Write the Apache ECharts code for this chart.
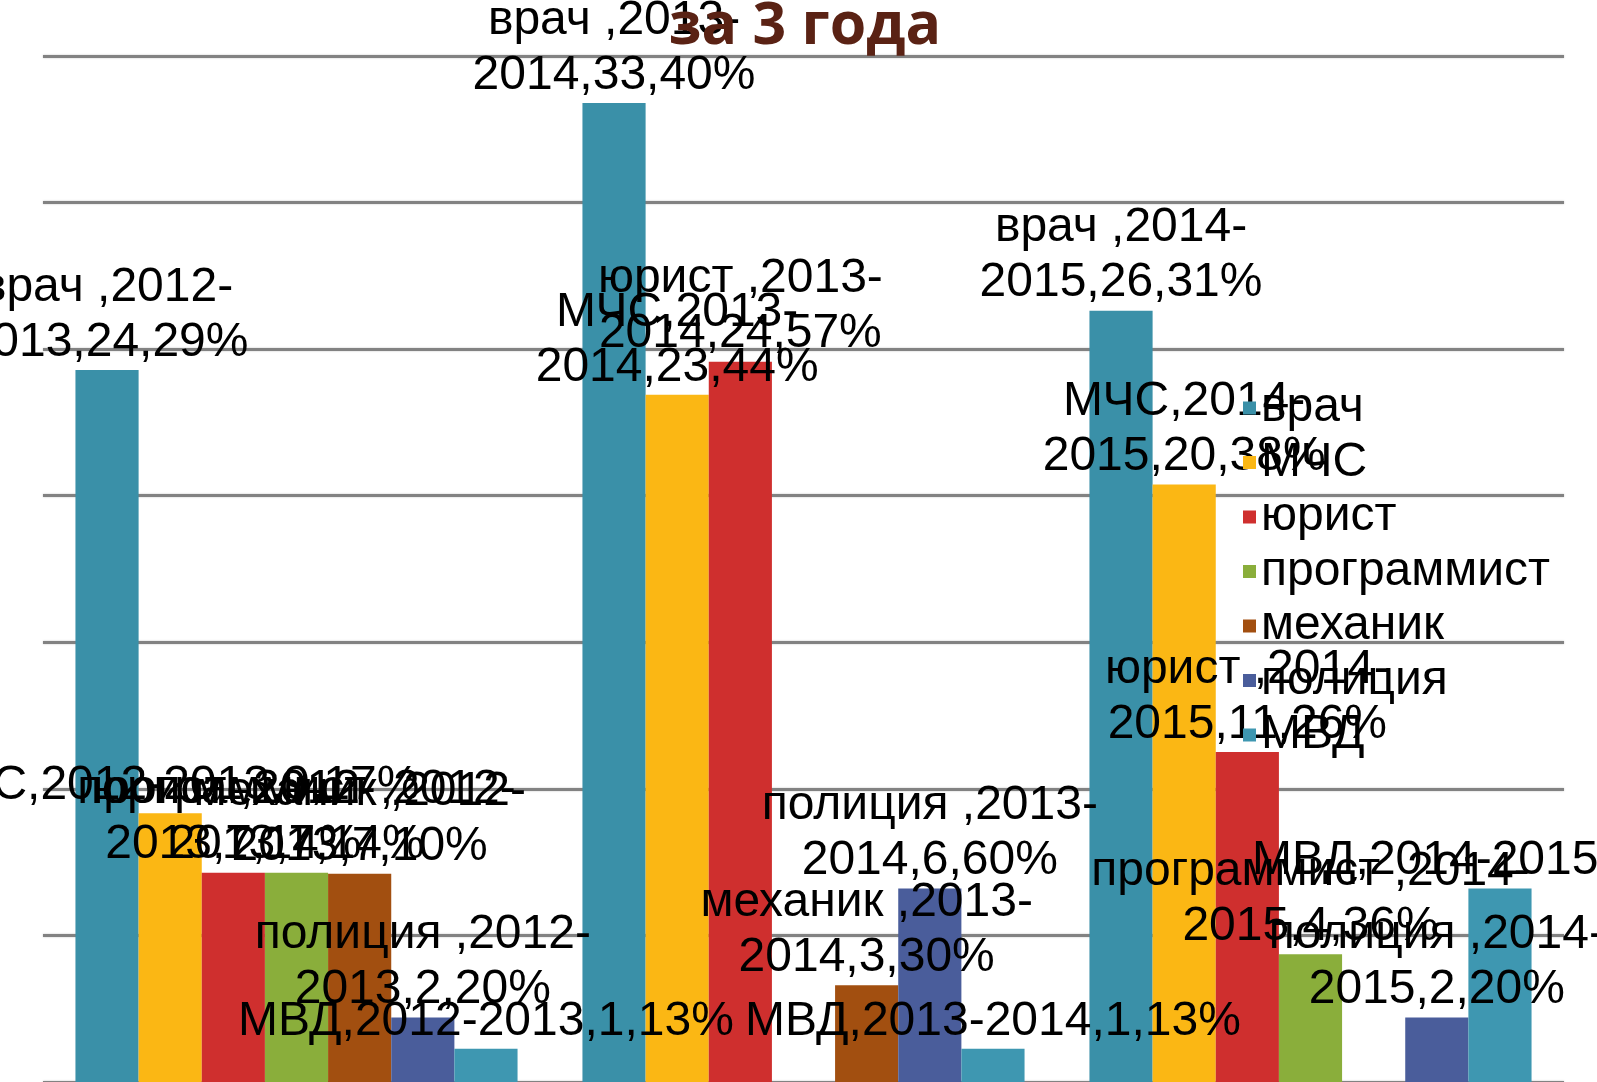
<!DOCTYPE html>
<html><head><meta charset="utf-8">
<script src="https://cdn.jsdelivr.net/npm/echarts@6/dist/echarts.min.js"></script>
<style>html,body{margin:0;padding:0;background:#fff;overflow:hidden}#c{width:1597px;height:1082px}</style>
</head><body><div id="c"></div>
<script>
// ---- data ----
const categories = ['2012-2013', '2013-2014', '2014-2015'];
const seriesNames = ['врач ', 'МЧС', 'юрист ', 'программист ', 'механик ', 'полиция ', 'МВД'];
const vrach      = [24.29, 33.40, 26.31];
const mchs       = [9.17, 23.44, 20.38];
const yurist     = [7.14, 24.57, 11.26];
const programmer = [7.14, null, 4.36];
const mechanic   = [7.10, 3.30, null];
const police     = [2.20, 6.60, 2.20];
const mvd        = [1.13, 1.13, 6.60];
const yTicks     = [0, 5, 10, 15, 20, 25, 30, 35];
const titleText  = 'за 3 года';

const seriesValues = [vrach, mchs, yurist, programmer, mechanic, police, mvd];
const colors = ['#3A90A8', '#FBB714', '#CF2F2E', '#8AAE3B', '#A24F10', '#4A5D9B', '#3E97B1'];

function fmt(p) {
  if (p.value == null) return '';
  const v = Number(p.value).toFixed(2).replace('.', ',') + '%';
  const parts = p.name.split('-');
  const single = p.seriesName === 'МВД' || (p.seriesName === 'МЧС' && p.dataIndex === 0);
  if (single) return p.seriesName + ',' + p.name + ',' + v;
  return p.seriesName + ',' + parts[0] + '-\n' + parts[1] + ',' + v;
}

const chart = echarts.init(document.getElementById('c'), null, {renderer: 'canvas'});
chart.setOption({
  animation: false,
  backgroundColor: '#ffffff',
  color: colors,
  grid: {left: 43, right: 33, top: 56, bottom: -7, containLabel: false},
  xAxis: {
    type: 'category', data: categories,
    axisLine: {show: false}, axisTick: {show: false}, axisLabel: {show: false}
  },
  yAxis: {
    type: 'value', min: yTicks[0], max: yTicks[yTicks.length - 1], interval: yTicks[1] - yTicks[0],
    axisLine: {show: false}, axisTick: {show: false}, axisLabel: {show: false},
    splitLine: {lineStyle: {color: '#828282', width: 3, shadowBlur: 2, shadowColor: 'rgba(0,0,0,0.25)'}}
  },
  legend: {
    orient: 'vertical', left: 1243, top: 384, padding: 0,
    itemWidth: 13, itemHeight: 13, icon: 'rect', itemGap: 6.5,
    textStyle: {fontSize: 48, lineHeight: 48, color: '#000', fontFamily: 'Liberation Sans, Arial, sans-serif'},
    data: seriesNames
  },
  graphic: [{
    type: 'text', x: 805, y: 27, z: 100,
    style: {
      text: titleText, align: 'center', verticalAlign: 'middle',
      fill: '#5A2214', font: 'bold 59px "Open Sans", sans-serif'
    }
  }],
  series: seriesNames.map((n, i) => ({
    name: n, type: 'bar', data: seriesValues[i],
    barGap: '0%', barCategoryGap: '12.8%',
    itemStyle: {color: colors[i]},
    label: {
      show: true, position: 'top', distance: 0, formatter: fmt,
      fontSize: 48, lineHeight: 55, color: '#000', align: 'center',
      fontFamily: 'Liberation Sans, Arial, sans-serif'
    }
  }))
});
</script></body></html>
